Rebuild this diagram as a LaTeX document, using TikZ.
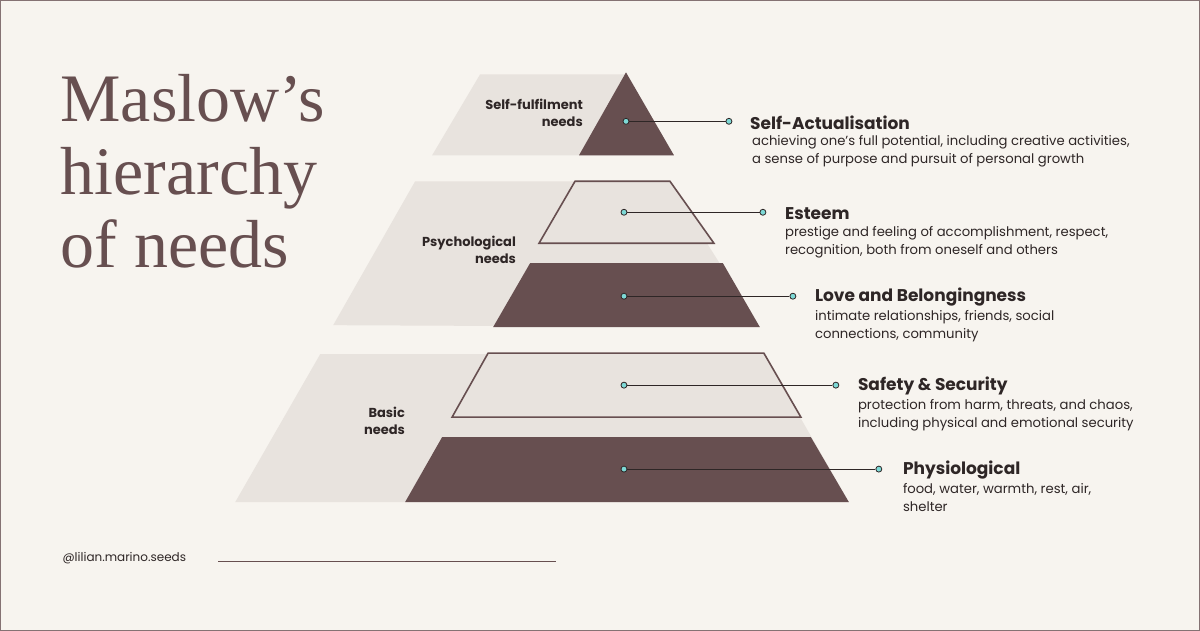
\documentclass[tikz,border=0pt]{standalone}
\usepackage{fontspec}
\setmainfont{Liberation Serif}
\newfontfamily\pop{Poppins}
\definecolor{bg}{HTML}{F7F4EF}
\definecolor{lite}{HTML}{E8E3DE}
\definecolor{dark}{HTML}{674F50}
\definecolor{ink}{HTML}{2E2626}
\definecolor{teal}{HTML}{7DD9D6}
\begin{document}
\begin{tikzpicture}[x=1pt,y=-1pt,
  litefill/.style={fill=lite,draw=none},
  darkfill/.style={fill=dark,draw=none},
  outl/.style={fill=lite,draw=dark,line width=1.6pt},
  dot/.style={circle,fill=teal,draw=ink,line width=0.8pt,inner sep=0pt,minimum size=6pt},
  conn/.style={draw=ink,line width=0.9pt},
  head/.style={anchor=west,font=\pop\bfseries\fontsize{17}{20}\selectfont,text=ink,inner sep=0pt},
  desc/.style={anchor=north west,align=left,font=\pop\fontsize{13.2}{18}\selectfont,text=ink,inner sep=0pt},
  grp/.style={anchor=east,align=right,font=\pop\bfseries\fontsize{13}{17}\selectfont,text=ink,inner sep=0pt}]
\fill[bg,draw=dark!80,line width=0.8pt] (0,0) rectangle (1200,630);
\useasboundingbox (0,0) rectangle (1200,630);
% title
\node[anchor=north west,align=left,inner sep=0pt,text=dark,font=\fontsize{68}{73}\selectfont] (title) at (60,74) {Maslow’s\\hierarchy\\of needs};
% top
\path[litefill] (480,74) -- (626,74) -- (674,155) -- (432,155) -- cycle;
\path[darkfill] (626,72) -- (674,155) -- (579,155) -- cycle;
% middle
\path[litefill] (415,181) -- (668,181) -- (760,327) -- (333,325) -- cycle;
\path[outl] (575,181) -- (670,181) -- (714,243) -- (539,243) -- cycle;
\path[darkfill] (530,263) -- (723,263) -- (760,327) -- (493,327) -- cycle;
% bottom
\path[litefill] (320,354) -- (764,354) -- (849,502) -- (235,502) -- cycle;
\path[outl] (488,353) -- (764,353) -- (801,417) -- (452,417) -- cycle;
\path[darkfill] (442,437) -- (811,437) -- (849,502) -- (405,502) -- cycle;
% group labels
\node[grp] (g1) at (583,113) {Self-fulfilment\\needs};
\node[grp] (g2) at (516,250) {Psychological\\needs};
\node[grp] (g3) at (405,421) {Basic\\needs};
% connectors
\foreach \n/\a/\b/\y in {1/626/729/121,2/624/763/212,3/624/793/296,4/624/836/385,5/624/879/469}{
  \node[dot] (s\n) at (\a,\y) {};
  \node[dot] (e\n) at (\b,\y) {};
  \draw[conn] (s\n) -- (e\n);
}
\node[head] (h1) at (750,122) {Self-Actualisation};
\node[desc] (d1) at (752,135) {achieving one’s full potential, including creative activities,\\a sense of purpose and pursuit of personal growth};
\node[head] (h2) at (785,213) {Esteem};
\node[desc] (d2) at (785,226) {prestige and feeling of accomplishment, respect,\\recognition, both from oneself and others};
\node[head] (h3) at (815,297) {Love and Belongingness};
\node[desc] (d3) at (815,310) {intimate relationships, friends, social\\connections, community};
\node[head] (h4) at (858,386) {Safety \& Security};
\node[desc] (d4) at (858,399) {protection from harm, threats, and chaos,\\including physical and emotional security};
\node[head] (h5) at (903,470) {Physiological};
\node[desc] (d5) at (903,483) {food, water, warmth, rest, air,\\shelter};
% footer
\node[anchor=west,inner sep=0pt,font=\pop\fontsize{12}{14}\selectfont,text=ink] (handle) at (62,558) {@lilian.marino.seeds};
\coordinate (l1) at (218,561);
\coordinate (l2) at (556,561);
\draw[dark,line width=0.8pt] (l1) -- (l2);
\end{tikzpicture}
\end{document}
